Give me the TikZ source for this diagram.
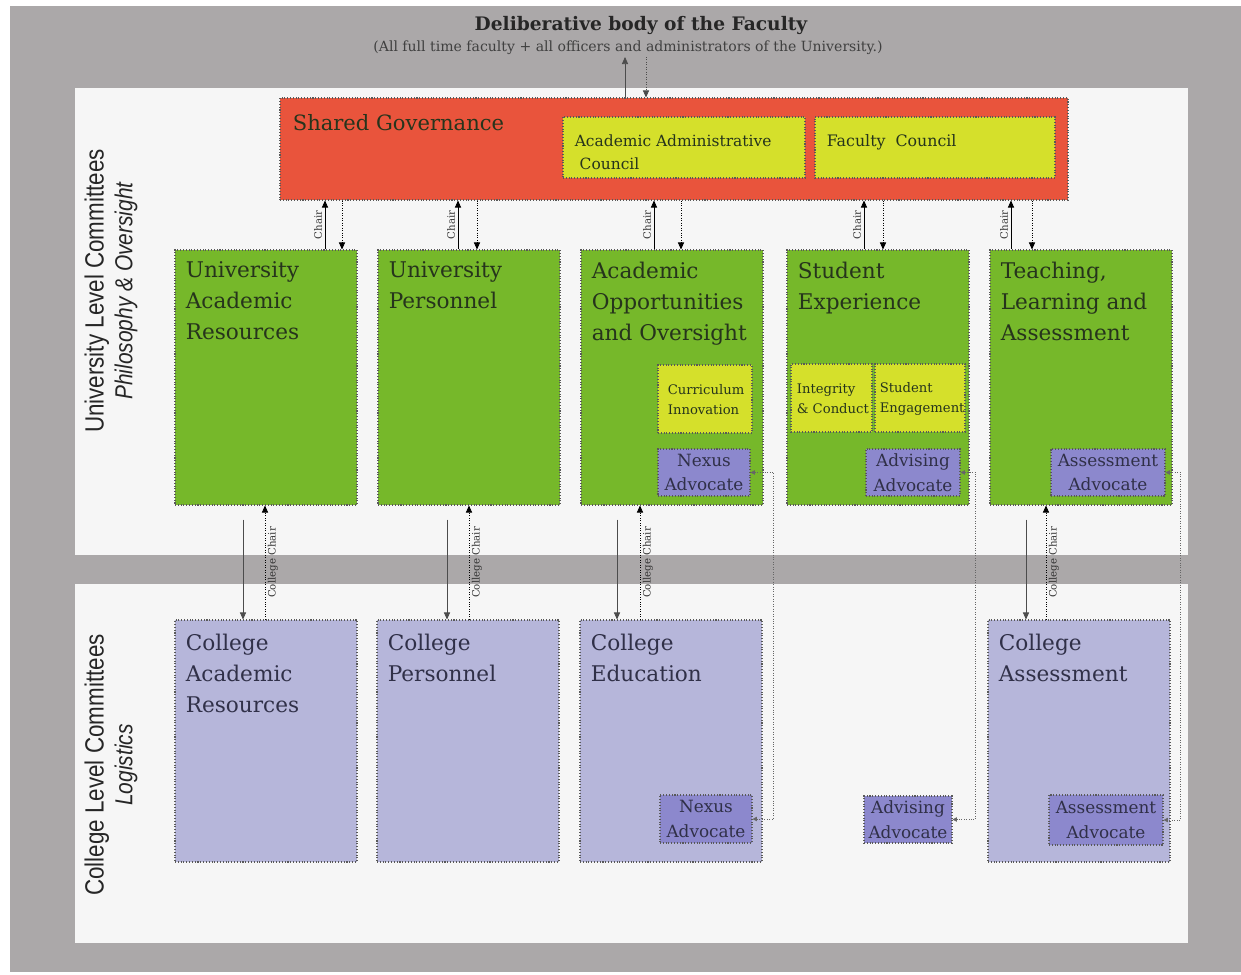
\documentclass[tikz,border=0pt]{standalone}
\usepackage{fontspec}
\setmainfont{DejaVu Serif}
\newfontfamily\narrowsans[FakeStretch=0.85]{Liberation Sans}
\usetikzlibrary{positioning,arrows.meta,fit}

\definecolor{bggray}{RGB}{171,168,169}
\definecolor{panel}{RGB}{246,246,246}
\definecolor{sgred}{RGB}{233,84,60}
\definecolor{subyellow}{RGB}{213,224,43}
\definecolor{unigreen}{RGB}{118,184,42}
\definecolor{collilac}{RGB}{182,182,218}
\definecolor{advpurple}{RGB}{140,136,205}
\definecolor{inkgreen}{RGB}{38,52,28}
\definecolor{inkblue}{RGB}{48,48,72}

\tikzset{
  box/.style={inner sep=0pt, draw=black!65, densely dotted, line width=0.6pt},
  headtext/.style={anchor=north west, align=left, inner sep=0pt, text=inkgreen, font=\fontsize{12.3}{17.6}\selectfont},
  colltext/.style={headtext, text=inkblue},
  subtext/.style={anchor=north west, align=left, inner sep=0pt, text=inkgreen, font=\fontsize{8.8}{13}\selectfont},
  tinytext/.style={anchor=west, align=left, inner sep=0pt, text=inkgreen, font=\fontsize{7.5}{11.3}\selectfont},
  advtext/.style={align=center, inner sep=0pt, text=inkblue, font=\fontsize{9.6}{14}\selectfont},
  chairlbl/.style={rotate=90, inner sep=1.5pt, text=black!80, font=\fontsize{5.8}{6}\selectfont},
  sidelbl/.style={rotate=90, align=center, text=black!85, font=\narrowsans\fontsize{15}{16.5}\selectfont},
  advlink/.style={densely dotted, black!60, {Triangle[length=2.5pt,width=2.5pt]}-{Triangle[length=2.5pt,width=2.5pt]}}
}

\begin{document}
\begin{tikzpicture}[x=0.02cm, y=-0.02cm, >={Triangle[length=4pt,width=3.5pt]}]
  \useasboundingbox (0,0) rectangle (1241,974);
  % frame and the two panels
  \fill[white] (0,0) rectangle (1241,974);
  \fill[bggray] (10,6) rectangle (1241,972);
  \fill[panel] (75,88) rectangle (1188,555);
  \fill[panel] (75,584) rectangle (1188,943);

  \node[sidelbl] (ulc) at (111,291) {University Level Committees\\{\fontsize{14}{16}\selectfont\itshape Philosophy \& Oversight}};
  \node[sidelbl] (clc) at (111,765) {College Level Committees\\{\fontsize{14}{16}\selectfont\itshape Logistics}};

  % faculty
  \node[inner sep=0pt, font=\fontsize{10.6}{12}\selectfont\bfseries, text=black!85] (delib) at (641,25) {Deliberative body of the Faculty};
  \node[inner sep=1pt, font=\fontsize{8}{9}\selectfont, text=black!75] (delibsub) at (628,48) {(All full time faculty + all officers and administrators of the University.)};

  % shared governance
  \node[box, fill=sgred, fit={(280,98)(1068,200)}] (sg) {};
  \node[headtext, font=\fontsize{12}{14}\selectfont] (sg-t) at ([shift={(13,17)}]sg.north west) {Shared Governance};
  \node[box, fill=subyellow, fit={(563,117)(805,178)}] (aac) {};
  \node[subtext] (aac-t) at ([shift={(12,18)}]aac.north west) {Academic Administrative\\\ Council};
  \node[box, fill=subyellow, fit={(815,117)(1055,178)}] (fc) {};
  \node[subtext, font=\fontsize{9}{13}\selectfont] (fc-t) at ([shift={(12,18)}]fc.north west) {Faculty\ \ Council};
  \draw[->, black!70] (625,0 |- sg.north) -- (625,0 |- delibsub.south);
  \draw[->, densely dotted, black!70] (646,0 |- delibsub.south) -- (646,0 |- sg.north);

  % university level
  \foreach \n/\x/\t in {uar/175/{University\\Academic\\Resources}, upers/378/{University\\Personnel},
      aoo/581/{Academic\\Opportunities\\and Oversight}, sexp/787/{Student\\Experience},
      tla/990/{Teaching,\\Learning and\\Assessment}}{
    \node[box, fill=unigreen, fit={(\x,250)(\x+182,505)}] (\n) {};
    \node[headtext] (\n-t) at ([shift={(11,12)}]\n.north west) {\t};
  }
  \foreach \n/\p/\q in {uar/325/342, upers/458/477, aoo/654/681, sexp/864/883, tla/1011/1032}{
    \draw[->] (\p,0 |- \n.north) -- node[chairlbl, anchor=south] (\n-c) {Chair} (\p,0 |- sg.south);
    \draw[->, densely dotted] (\q,0 |- sg.south) -- (\q,0 |- \n.north);
  }
  \foreach \n/\a/\b/\d/\t in {curr/{658,365}/{752,433}/10/{Curriculum\\Innovation},
      integ/{791,364}/{872,432}/6/{Integrity\\\& Conduct}, seng/{875,364}/{965,432}/5/{Student\\Engagement}}{
    \node[box, fill=subyellow, fit={(\a)(\b)}] (\n) {};
    \node[tinytext] (\n-t) at ([shift={(\d,1)}]\n.west) {\t};
  }

  % college level
  \foreach \n/\x/\t in {cac/175/{College\\Academic\\Resources}, cpers/377/{College\\Personnel},
      cedu/580/{College\\Education}, cass/988/{College\\Assessment}}{
    \node[box, fill=collilac, fit={(\x,620)(\x+182,862)}] (\n) {};
    \node[colltext] (\n-t) at ([shift={(11,14)}]\n.north west) {\t};
  }
  \foreach \a/\b/\p/\q in {uar/cac/243/265, upers/cpers/447/469, aoo/cedu/617/640, tla/cass/1026/1046}{
    \draw[->, black!70, shorten <=8pt] (\p,0 |- \a.south) -- (\p,0 |- \b.north);
    \draw[->, densely dotted] (\q,0 |- \b.north) -- node[chairlbl, anchor=north] (\b-c) {College Chair} (\q,0 |- \a.south);
  }

  % advocates
  \foreach \n/\a/\b/\t in {nexa/{658,449}/{750,496}/Nexus, adva/{866,449}/{960,496}/Advising,
      assa/{1051,449}/{1165,496}/Assessment, nexb/{660,795}/{752,843}/Nexus,
      advb/{864,796}/{952,843}/Advising, assb/{1049,795}/{1163,845}/Assessment}{
    \node[box, fill=advpurple, fit={(\a)(\b)}] (\n) {};
    \node[advtext] (\n-t) at (\n.center) {\t\\Advocate};
  }
  \draw[advlink] (nexa.east) -- ++(23,0) |- (nexb.east);
  \draw[advlink] (adva.east) -- ++(15,0) |- (advb.east);
  \draw[advlink] (assa.east) -- ++(15,0) |- (assb.east);
\end{tikzpicture}
\end{document}
